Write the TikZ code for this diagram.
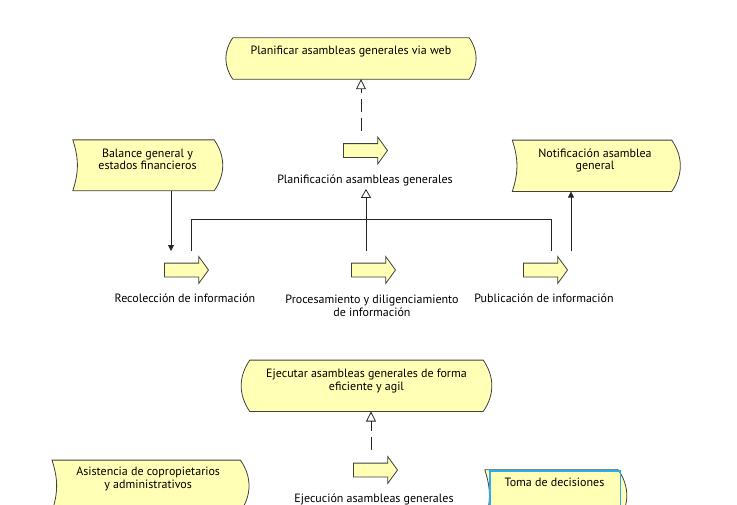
\documentclass[tikz,border=0pt]{standalone}
\usepackage{fontspec}
\setmainfont{PT Sans}
\usepackage{tikz}
\usetikzlibrary{shapes.arrows, arrows.meta, positioning}

\definecolor{elemfill}{RGB}{255,255,181}
\definecolor{selblue}{RGB}{40,175,240}

\tikzset{
  elembox/.style={minimum width=#1, inner sep=0pt},
  shapeline/.style={draw=black!75, fill=elemfill, line width=0.8pt},
  elemtext/.style={align=center, inner sep=0pt, font=\fontsize{12}{12.5}\selectfont},
  lbl/.style={align=center, inner sep=0pt, font=\fontsize{12}{13}\selectfont},
  procicon/.style={single arrow, draw=black!75, fill=elemfill, line width=0.8pt,
    minimum height=44pt, inner xsep=0pt, inner ysep=6.5pt, single arrow head extend=6.5pt,
    single arrow tip angle=108},
  realiz/.style={draw=black!85, line width=0.8pt, dash pattern=on 13pt off 6pt,
    -{Triangle[open, length=10pt, width=10pt]}},
  compos/.style={draw=black!85, line width=0.8pt, -{Triangle[open, length=9pt, width=10pt]}},
  trig/.style={draw=black!85, line width=0.8pt, -{Triangle[length=6pt, width=6pt]}},
  flowline/.style={draw=black!85, line width=0.8pt}
}

% goal: both sides bulge out, event: notch on the left
\newcommand{\goalshape}[1]{\path[shapeline] (#1.north west) to[bend right=35] (#1.south west)
  -- (#1.south east) to[bend right=35] (#1.north east) -- cycle;}
\newcommand{\eventshape}[1]{\path[shapeline] (#1.north west) to[bend left=18] (#1.south west)
  -- (#1.south east) to[bend right=35] (#1.north east) -- cycle;}

\begin{document}
\begin{tikzpicture}[x=1pt, y=-1pt]
  \useasboundingbox (0,0) rectangle (737,504);

  % elements
  \node[elembox=236pt, minimum height=41pt] (planweb) at (351,58.5) {};
  \node[elembox=141pt, minimum height=50.5pt] (balance) at (143.5,165.3) {};
  \node[elembox=159pt, minimum height=51pt] (notif) at (592,165.8) {};
  \node[elembox=233pt, minimum height=51pt] (ejecgoal) at (366.5,385.8) {};
  \node[elembox=188pt, minimum height=51pt] (asist) at (146.2,485.8) {};
  \node[elembox=133pt, minimum height=51pt] (toma) at (551.5,495.5) {};

  \goalshape{planweb}
  \goalshape{ejecgoal}
  \eventshape{balance}
  \eventshape{notif}
  \eventshape{asist}
  \eventshape{toma}
  \draw[selblue, line width=1.1pt] (490,471) rectangle (620.5,530);

  \node[elemtext, below=8.5pt of planweb.north] (planwebtxt) {Planificar asambleas generales via web};
  \node[elemtext, below=8.5pt of balance.north, xshift=4pt] (balancetxt) {Balance general y\\estados financieros};
  \node[elemtext, below=8.5pt of notif.north, xshift=3pt] (notiftxt) {Notificación asamblea\\general};
  \node[elemtext, below=9pt of ejecgoal.north] (ejecgoaltxt) {Ejecutar asambleas generales de forma\\eficiente y agil};
  \node[elemtext, below=7pt of asist.north, xshift=2pt] (asisttxt) {Asistencia de copropietarios\\y administrativos};
  \node[elemtext, below=8pt of toma.north, xshift=3pt] (tomatxt) {Toma de decisiones};

  % processes
  \node[procicon] (planproc) at (363,150.5) {};
  \node[procicon] (recproc) at (184,270) {};
  \node[procicon] (procproc) at (371,270) {};
  \node[procicon] (pubproc) at (543,270) {};
  \node[procicon] (ejecproc) at (373,470) {};

  \node[lbl, below=16.5pt of planproc, xshift=2pt] (planlbl) {Planificación asambleas generales};
  \node[lbl, below=16.5pt of recproc, xshift=1pt] (reclbl) {Recolección de información};
  \node[lbl, below=17pt of procproc, xshift=1pt] (proclbl) {Procesamiento y diligenciamiento\\de información};
  \node[lbl, below=16.5pt of pubproc, xshift=1pt] (publbl) {Publicación de información};
  \node[lbl, below=16.5pt of ejecproc, xshift=1pt] (ejeclbl) {Ejecución asambleas generales};

  % relations
  \draw[realiz] ([shift={(-2pt,20pt)}]planproc.center) -- ([xshift=-2pt]planproc.center |- planweb.south);
  \draw[compos, shorten >=3pt] ([shift={(-5pt,19pt)}]procproc.center) -- ([xshift=-5pt]procproc.center |- planlbl.south);
  \draw[flowline] ([shift={(7pt,19pt)}]recproc.center) -- ++(0pt,31.5pt) -| ([shift={(8.5pt,19pt)}]pubproc.center);
  \draw[trig] ([xshift=-13pt]recproc.center |- balance.south) -- ([shift={(-13pt,19pt)}]recproc.center);
  \draw[trig] ([shift={(28pt,19pt)}]pubproc.center) -- ([xshift=28pt]pubproc.center |- notif.south);
  \draw[realiz] ([shift={(-2pt,20pt)}]ejecproc.center) -- ([xshift=-2pt]ejecproc.center |- ejecgoal.south);
\end{tikzpicture}
\end{document}
